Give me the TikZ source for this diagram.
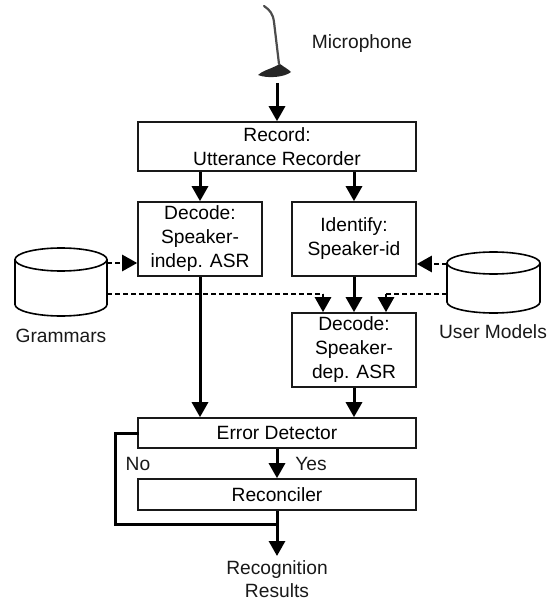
\documentclass[tikz,border=0pt]{standalone}
\usepackage{fontspec}
\setmainfont{Liberation Sans}
\usetikzlibrary{arrows.meta,calc}
\tikzset{
  box/.style={draw=black!90,line width=1.6pt,fill=white,inner sep=0pt,align=center,font=\fontsize{19.2}{24}\selectfont},
  lbl/.style={inner sep=0pt,align=center,text=black!90,font=\fontsize{19.2}{24}\selectfont},
  flow/.style={line width=3pt,draw=black,-{Triangle[length=15pt,width=16pt]}},
  plain/.style={line width=3pt,draw=black},
  dashflow/.style={line width=2.6pt,draw=black,dash pattern=on 5pt off 3pt,-{Triangle[length=15pt,width=16pt]}},
  dashnohead/.style={line width=2.6pt,draw=black,dash pattern=on 5pt off 3pt},
  store/.style={inner sep=0pt,draw=none},
  cyl/.style={draw=black,line width=1.6pt,fill=white},
}
\begin{document}
\begin{tikzpicture}[x=1pt,y=-1pt]
\useasboundingbox (0,0) rectangle (558,601);
% microphone
\fill[black!85] (258,75) .. controls (262,71) and (270,69) .. (276,66) -- (280,64) .. controls (284,67) and (288,69) .. (291,72) .. controls (285,77) and (268,79) .. (258,75) -- cycle;
\draw[black!70,line width=2.2pt,line cap=round] (264,6) .. controls (270,10) and (273,14) .. (274,22) -- (279,64);
% boxes
\node[box,minimum width=278pt,minimum height=49pt] (rec) at (277,146.5) {Record:\\Utterance Recorder};
\node[box,minimum width=124pt,minimum height=74pt] (dec1) at (200,239) {Decode:\\Speaker-\\indep. ASR};
\node[box,minimum width=124pt,minimum height=74pt] (ident) at (354,239) {Identify:\\Speaker-id};
\node[box,minimum width=124pt,minimum height=74pt] (dec2) at (354,350) {Decode:\\Speaker-\\dep. ASR};
\node[box,minimum width=278pt,minimum height=30pt] (err) at (277,433) {Error Detector};
\node[box,minimum width=278pt,minimum height=31pt] (recon) at (277,494.5) {Reconciler};
% data stores
\draw[cyl] (15,259.5) .. controls (15,253.2) and (35.6,248) .. (61,248) .. controls (86.4,248) and (107,253.2) .. (107,259.5) -- (107,304.5) .. controls (107,310.8) and (86.4,316) .. (61,316) .. controls (35.6,316) and (15,310.8) .. (15,304.5) -- cycle;
\draw[cyl,fill=none] (15,259.5) .. controls (15,265.8) and (35.6,271) .. (61,271) .. controls (86.4,271) and (107,265.8) .. (107,259.5);
\draw[cyl] (447,263) .. controls (447,257) and (467.7,252) .. (493.5,252) .. controls (519.3,252) and (540,257) .. (540,263) -- (540,302) .. controls (540,308) and (519.3,313) .. (493.5,313) .. controls (467.7,313) and (447,308) .. (447,302) -- cycle;
\draw[cyl,fill=none] (447,263) .. controls (447,269) and (467.7,274) .. (493.5,274) .. controls (519.3,274) and (540,269) .. (540,263);
\node[store,minimum width=92pt,minimum height=68pt] (gram) at (61,282) {};
\node[store,minimum width=93pt,minimum height=61pt] (user) at (493.5,282.5) {};
% labels
\node[lbl] (mic) at (362,44) {Microphone};
\coordinate (micout) at (277,83);
\node[lbl] (gl) at (61,336) {Grammars};
\node[lbl] (ul) at (493,332) {User Models};
\node[lbl] (no) at (138,464) {No};
\node[lbl] (yes) at (311,464) {Yes};
\node[lbl,font=\fontsize{19.2}{23}\selectfont] (res) at (277,579.5) {Recognition\\Results};
\coordinate (resin) at (277,556);
\coordinate (g1) at (107,263);
\coordinate (g2) at (107,294);
\coordinate (u1) at (447,264);
\coordinate (u2) at (447,294);
\coordinate (t1) at (323,294);
\coordinate (t2) at (386,294);
\coordinate (loop1) at (115,433);
\coordinate (loop2) at (115,524);
\coordinate (join) at (277,524);
% dashed
\draw[dashflow] (g1) -- (g1 -| dec1.west);
\draw[dashnohead] (g2) -- (t1);
\draw[dashflow] (t1) -- (t1 |- dec2.north);
\draw[dashflow] (u1) -- (u1 -| ident.east);
\draw[dashnohead] (u2) -- (t2);
\draw[dashflow] (t2) -- (t2 |- dec2.north);
% solid
\draw[flow] (micout) -- (rec.north -| micout);
\draw[flow] (rec.south -| dec1) -- (dec1.north);
\draw[flow] (rec.south -| ident) -- (ident.north);
\draw[flow] (dec1.south) -- (err.north -| dec1);
\draw[flow] (ident.south) -- (dec2.north);
\draw[flow] (dec2.south) -- (err.north -| dec2);
\draw[flow] (err.south) -- (recon.north);
\draw[flow] (recon.south) -- (resin);
\draw[plain,line cap=rect] (err.west |- loop1) -- (loop1) -- (loop2) -- (join);
\end{tikzpicture}
\end{document}
